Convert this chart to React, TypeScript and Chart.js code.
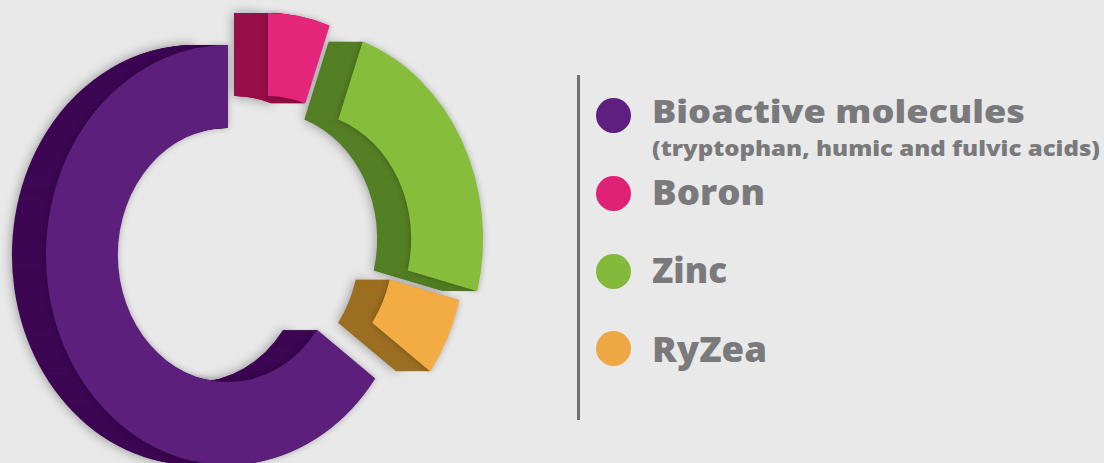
import React, { useEffect, useLayoutEffect, useRef } from "react";
import { Chart, registerables } from "chart.js";

Chart.register(...registerables);

// ---- data ----
const categories = ["Bioactive molecules", "Boron", "Zinc", "RyZea"];
const subLabels = ["(tryptophan, humic and fulvic acids)", "", "", ""];
const shares = [65, 5.5, 23.5, 6];

// ---- style ----
const frontColors = ["#5D1F7C", "#E4267A", "#86BE3B", "#F3AC43"];
const sideColors = ["#3E0754", "#980F48", "#547F24", "#9C6E22"];
const legendDotColors = ["#5F1F80", "#E02277", "#84BA3B", "#EDA843"];
// exploded-slice displacement (px) of each slice of the tilted ring
const sliceShiftX = [-32, 8, 41, 23];
const sliceShiftY = [12, -20, -4, 5];
const SQUASH = 0.867; // horizontal foreshortening of the tilted ring
const DEPTH = 34; // extrusion depth in px (towards the left)
const BG = "#E9E9E9";
const TEXT = "#7A7A7C";

const extrude3d = {
  id: "extrude3d",
  beforeDatasetsDraw(chart: any) {
    const ctx: CanvasRenderingContext2D = chart.ctx;
    const meta = chart.getDatasetMeta(0);
    const geo = meta.data.map((el: any, i: number) => {
      const p = el.getProps(
        ["x", "y", "startAngle", "endAngle", "innerRadius", "outerRadius"],
        true
      );
      return { ...p, ox: sliceShiftX[i], oy: sliceShiftY[i] };
    });
    const path = (g: any, shift: number) => {
      ctx.beginPath();
      ctx.save();
      ctx.translate(g.x + g.ox - shift, g.y + g.oy);
      ctx.scale(SQUASH, 1);
      ctx.arc(0, 0, g.outerRadius, g.startAngle, g.endAngle);
      ctx.arc(0, 0, g.innerRadius, g.endAngle, g.startAngle, true);
      ctx.closePath();
      ctx.restore();
    };
    ctx.save();
    for (let k = DEPTH; k >= 1; k--) {
      geo.forEach((g: any, i: number) => {
        if (k === DEPTH) {
          ctx.shadowColor = "rgba(0,0,0,0.4)";
          ctx.shadowBlur = 12;
        } else {
          ctx.shadowColor = "rgba(0,0,0,0)";
          ctx.shadowBlur = 0;
        }
        ctx.fillStyle = sideColors[i];
        path(g, k);
        ctx.fill();
      });
    }
    geo.forEach((g: any, i: number) => {
      ctx.shadowColor = "rgba(0,0,0,0.28)";
      ctx.shadowBlur = 6;
      ctx.fillStyle = frontColors[i];
      path(g, 0);
      ctx.fill();
    });
    ctx.restore();
    return false;
  },
};

function DonutChart() {
  const ref = useRef<HTMLCanvasElement | null>(null);
  useEffect(() => {
    if (!ref.current) return;
    const chart = new Chart(ref.current, {
      type: "doughnut",
      data: {
        labels: categories,
        datasets: [
          {
            data: shares,
            backgroundColor: frontColors,
            borderWidth: 0,
            hoverBorderWidth: 0,
            hoverOffset: 0,
          },
        ],
      },
      options: {
        responsive: false,
        animation: false,
        events: [],
        rotation: 126,
        cutout: "60.5%",
        layout: { padding: { left: 50, right: 50, top: 33, bottom: 10 } },
        plugins: {
          legend: { display: false },
          tooltip: { enabled: false },
        },
      },
      plugins: [extrude3d],
    });
    return () => chart.destroy();
  }, []);
  return (
    <canvas
      ref={ref}
      width={520}
      height={463}
      style={{ position: "absolute", left: 0, top: 0, width: 520, height: 463 }}
    />
  );
}

function FitText(props: { text: string; left: number; top: number; size: number; width: number }) {
  const ref = useRef<HTMLDivElement | null>(null);
  useLayoutEffect(() => {
    const el = ref.current;
    if (!el) return;
    el.style.transform = "none";
    const w = el.getBoundingClientRect().width;
    if (w > 0) el.style.transform = `scaleX(${props.width / w})`;
  }, [props.text, props.width, props.size]);
  return (
    <div
      ref={ref}
      style={{
        position: "absolute",
        left: props.left,
        top: props.top,
        fontSize: props.size,
        lineHeight: 1.2,
        fontWeight: 800,
        color: TEXT,
        whiteSpace: "nowrap",
        transformOrigin: "0 0",
        display: "inline-block",
      }}
    >
      {props.text}
    </div>
  );
}

const legendTops = [93, 170, 248, 327];
const legendDotCenters = [115, 193, 271, 348];
const legendSizes = [31, 36, 36, 36];
const legendWidths = [373, 113, 75, 115];

export default function App() {
  return (
    <div
      style={{
        position: "fixed",
        left: 0,
        top: 0,
        width: 1104,
        height: 463,
        background: BG,
        overflow: "hidden",
        fontFamily: "'Open Sans', Lato, sans-serif",
      }}
    >
      <DonutChart />
      <div
        style={{
          position: "absolute",
          left: 577,
          top: 75,
          width: 2.5,
          height: 345,
          background: "#707070",
        }}
      />
      {categories.map((c, i) => (
        <React.Fragment key={c}>
          <div
            style={{
              position: "absolute",
              left: 596,
              top: legendDotCenters[i] - 17.5,
              width: 35,
              height: 35,
              borderRadius: "50%",
              background: legendDotColors[i],
            }}
          />
          <FitText text={c} left={652} top={legendTops[i]} size={legendSizes[i]} width={legendWidths[i]} />
          {subLabels[i] ? (
            <FitText text={subLabels[i]} left={652} top={136} size={21} width={448} />
          ) : null}
        </React.Fragment>
      ))}
    </div>
  );
}
